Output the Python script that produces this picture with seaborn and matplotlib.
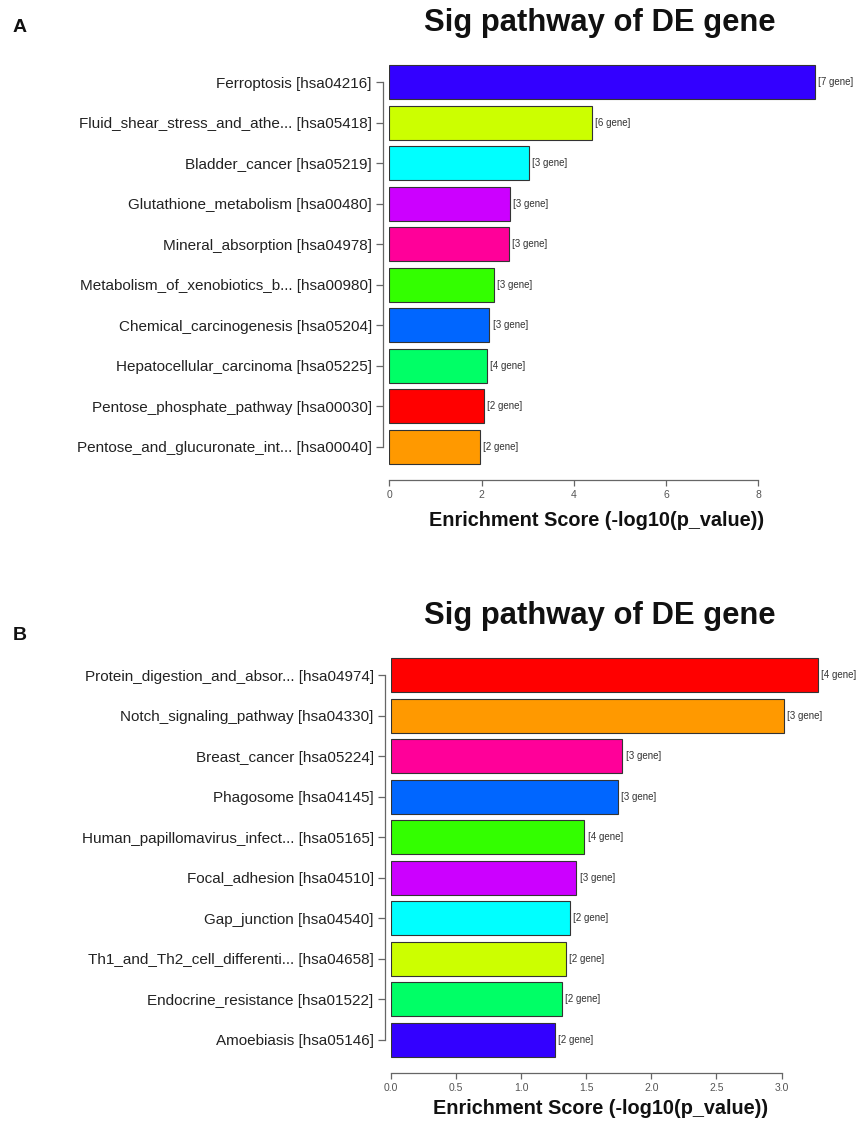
import matplotlib
matplotlib.use("Agg")
import matplotlib.pyplot as plt
import seaborn as sns

sns.set_theme(style="white")
plt.rcParams["font.family"] = ["Liberation Sans", "DejaVu Sans"]

# Panel A: KEGG pathways
pathways_a = [
    "Ferroptosis [hsa04216]",
    "Fluid_shear_stress_and_athe... [hsa05418]",
    "Bladder_cancer [hsa05219]",
    "Glutathione_metabolism [hsa00480]",
    "Mineral_absorption [hsa04978]",
    "Metabolism_of_xenobiotics_b... [hsa00980]",
    "Chemical_carcinogenesis [hsa05204]",
    "Hepatocellular_carcinoma [hsa05225]",
    "Pentose_phosphate_pathway [hsa00030]",
    "Pentose_and_glucuronate_int... [hsa00040]",
]
scores_a = [9.23, 4.39, 3.03, 2.62, 2.59, 2.27, 2.17, 2.12, 2.06, 1.96]
genes_a = [7, 6, 3, 3, 3, 3, 3, 4, 2, 2]
colors_a = ["#3300FF", "#CCFF00", "#00FFFF", "#CC00FF", "#FF0099",
            "#33FF00", "#0066FF", "#00FF66", "#FF0000", "#FF9900"]
ticks_a = [0, 2, 4, 6, 8]
tick_labels_a = ["0", "2", "4", "6", "8"]

# Panel B: KEGG pathways
pathways_b = [
    "Protein_digestion_and_absor... [hsa04974]",
    "Notch_signaling_pathway [hsa04330]",
    "Breast_cancer [hsa05224]",
    "Phagosome [hsa04145]",
    "Human_papillomavirus_infect... [hsa05165]",
    "Focal_adhesion [hsa04510]",
    "Gap_junction [hsa04540]",
    "Th1_and_Th2_cell_differenti... [hsa04658]",
    "Endocrine_resistance [hsa01522]",
    "Amoebiasis [hsa05146]",
]
scores_b = [3.28, 3.016, 1.777, 1.741, 1.485, 1.423, 1.375, 1.342, 1.311, 1.260]
genes_b = [4, 3, 3, 3, 4, 3, 2, 2, 2, 2]
colors_b = ["#FF0000", "#FF9900", "#FF0099", "#0066FF", "#33FF00",
            "#CC00FF", "#00FFFF", "#CCFF00", "#00FF66", "#3300FF"]
ticks_b = [0, 0.5, 1.0, 1.5, 2.0, 2.5, 3.0]
tick_labels_b = ["0.0", "0.5", "1.0", "1.5", "2.0", "2.5", "3.0"]

W, H = 861, 1124
fig = plt.figure(figsize=(W / 100, H / 100), dpi=100)


def px_axes(left, top, right, bottom):
    return fig.add_axes([left / W, 1 - bottom / H, (right - left) / W, (bottom - top) / H])


def panel(ax, names, scores, genes, colors, ticks, tlabels, xmax, xpad):
    sns.barplot(x=scores, y=names, hue=names, palette=colors, legend=False,
                dodge=False, orient="h", width=0.833, edgecolor="#333333",
                linewidth=0.8, saturation=1, ax=ax)
    ax.set_xlim(0, xmax)
    ax.set_ylim(len(names) - 0.4, -0.6)
    for i, (s, g) in enumerate(zip(scores, genes)):
        ax.text(s + xpad, i, f"[{g} gene]", fontsize=7, color="#333333",
                va="center", ha="left")
    for side in ("top", "right"):
        ax.spines[side].set_visible(False)
    ax.spines["left"].set_bounds(0, len(names) - 1)
    ax.spines["left"].set_position(("outward", 4.5))
    ax.spines["bottom"].set_bounds(ticks[0], ticks[-1])
    ax.spines["bottom"].set_position(("outward", 6.5))
    for side in ("left", "bottom"):
        ax.spines[side].set_color("#666666")
        ax.spines[side].set_linewidth(0.9)
    ax.set_xticks(ticks)
    ax.set_xticklabels(tlabels)
    ax.tick_params(axis="x", direction="out", length=4, width=0.9, color="#666666",
                   labelsize=7.5, labelcolor="#555555", pad=3, bottom=True)
    ax.tick_params(axis="y", direction="out", length=5, width=0.9, color="#666666",
                   labelsize=11, labelcolor="#222222", pad=3, left=True)
    ax.set_xlabel("")
    ax.set_ylabel("")


ax_a = px_axes(389.3, 57.9, 844.3, 471)
panel(ax_a, pathways_a, scores_a, genes_a, colors_a, ticks_a, tick_labels_a,
      455 / 46.1, 0.07)

ax_b = px_axes(391, 651, 846, 1064)
panel(ax_b, pathways_b, scores_b, genes_b, colors_b, ticks_b, tick_labels_b,
      455 / 130.2, 0.025)

# Titles, axis titles and panel letters
for yc in (23, 616):
    fig.text(600 / W, 1 - yc / H, "Sig pathway of DE gene", ha="center",
             va="center", fontsize=22.3, fontweight="bold", color="#111111")
fig.text(596.5 / W, 1 - 521 / H, "Enrichment Score (-log10(p_value))",
         ha="center", va="center", fontsize=14.3, fontweight="bold", color="#111111")
fig.text(601 / W, 1 - 1108 / H, "Enrichment Score (-log10(p_value))",
         ha="center", va="center", fontsize=14.3, fontweight="bold", color="#111111")
fig.text(20 / W, 1 - 27.5 / H, "A", ha="center", va="center", fontsize=14,
         fontweight="bold", color="#111111")
fig.text(20 / W, 1 - 636 / H, "B", ha="center", va="center", fontsize=14,
         fontweight="bold", color="#111111")

fig.savefig("out.png", dpi=100)
